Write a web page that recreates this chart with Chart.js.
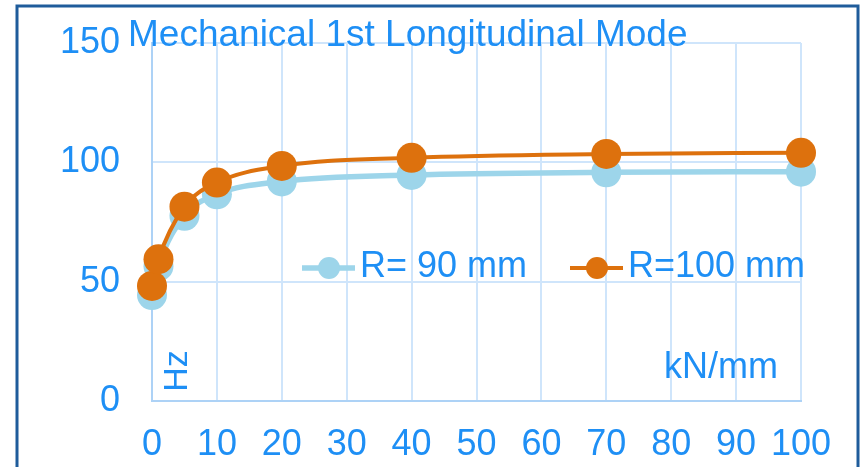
<!DOCTYPE html>
<html>
<head>
<meta charset="utf-8">
<script src="https://cdn.jsdelivr.net/npm/chart.js@4"></script>
<style>
    html, body { margin: 0; padding: 0; background: #fff; }
    canvas { display: block; }
</style>
</head>
<body>
<canvas id="chart" width="863" height="467"></canvas>
<script>
// Data
const stiffness = [0, 1, 5, 10, 20, 40, 70, 100];          // kN/mm
const freqR90 = [44.4, 56.5, 77.6, 86.6, 92, 94.7, 95.8, 96.1];   // Hz
const freqR100 = [48.2, 59.4, 81.4, 91.5, 98.5, 101.9, 103.5, 104]; // Hz
const seriesNames = ['R= 90 mm', 'R=100 mm'];
const xTicks = [0, 10, 20, 30, 40, 50, 60, 70, 80, 90, 100];
const yTicks = [0, 50, 100, 150];

const chartTitle = 'Mechanical 1st Longitudinal Mode';
const yUnit = 'Hz';
const xUnit = 'kN/mm';

const textBlue = '#1e8ff5';
const gridBlue = '#cfe5fb';
const axisBlue = '#add2f6';
const lightBlue = '#9dd5ea';
const orange = '#dd710d';
const fontFamily = 'Arial, "Liberation Sans", sans-serif';

const toPoints = (ys) => stiffness.map((x, i) => ({ x: x, y: ys[i] }));

// Frame, title, unit labels and legend drawn over the chart
const decorPlugin = {
    id: 'decor',
    beforeDraw(chart) {
        const ctx = chart.ctx;
        ctx.save();
        ctx.fillStyle = '#fff';
        ctx.fillRect(0, 0, chart.width, chart.height);
        ctx.strokeStyle = '#1f5c9b';
        ctx.lineWidth = 3;
        ctx.strokeRect(17, 6, 841, 480);
        ctx.restore();
    },
    afterDraw(chart) {
        const ctx = chart.ctx;
        ctx.save();
        ctx.fillStyle = textBlue;

        // title
        ctx.font = '37px ' + fontFamily;
        ctx.textAlign = 'left';
        ctx.textBaseline = 'alphabetic';
        ctx.fillText(chartTitle, 128, 46);

        // x unit
        ctx.font = '36px ' + fontFamily;
        ctx.fillText(xUnit, 664, 378);

        // y unit, rotated
        ctx.save();
        ctx.translate(178, 371);
        ctx.rotate(-Math.PI / 2);
        ctx.textAlign = 'center';
        ctx.textBaseline = 'middle';
        ctx.font = '34px ' + fontFamily;
        ctx.fillText(yUnit, 0, 0);
        ctx.restore();

        // legend
        const items = [
            { ds: chart.data.datasets[0], x: 302 },
            { ds: chart.data.datasets[1], x: 570 }
        ];
        const ly = 268;
        ctx.font = '36px ' + fontFamily;
        items.forEach(item => {
            ctx.strokeStyle = item.ds.borderColor;
            ctx.lineWidth = item.ds.borderWidth;
            ctx.beginPath();
            ctx.moveTo(item.x, ly);
            ctx.lineTo(item.x + 53, ly);
            ctx.stroke();
            ctx.fillStyle = item.ds.pointBackgroundColor;
            ctx.beginPath();
            ctx.arc(item.x + 27, ly, 11, 0, Math.PI * 2);
            ctx.fill();
            ctx.fillStyle = textBlue;
            ctx.textAlign = 'left';
            ctx.textBaseline = 'middle';
            ctx.fillText(item.ds.label, item.x + 58, ly - 1);
        });
        ctx.restore();
    }
};

const chart = new Chart(document.getElementById('chart').getContext('2d'), {
    type: 'line',
    data: {
        datasets: [
            {
                label: seriesNames[0],
                data: toPoints(freqR90),
                borderColor: lightBlue,
                backgroundColor: lightBlue,
                pointBackgroundColor: lightBlue,
                borderWidth: 5.5,
                pointRadius: 15,
                pointBorderWidth: 0,
                cubicInterpolationMode: 'monotone',
                clip: false,
                order: 1
            },
            {
                label: seriesNames[1],
                data: toPoints(freqR100),
                borderColor: orange,
                backgroundColor: orange,
                pointBackgroundColor: orange,
                borderWidth: 4,
                pointRadius: 15,
                pointBorderWidth: 0,
                cubicInterpolationMode: 'monotone',
                clip: false,
                order: 0
            }
        ]
    },
    options: {
        responsive: false,
        animation: false,
        events: [],
        layout: { autoPadding: false, padding: { top: 43, right: 62, left: 0, bottom: 0 } },
        plugins: {
            legend: { display: false },
            title: { display: false },
            tooltip: { enabled: false }
        },
        scales: {
            x: {
                type: 'linear',
                min: 0,
                max: 100,
                afterFit: (scale) => {
                    scale.height = 66;
                    scale.paddingLeft = 0;
                    scale.paddingRight = 0;
                },
                afterBuildTicks: (scale) => { scale.ticks = xTicks.map(v => ({ value: v })); },
                grid: { color: gridBlue, lineWidth: 2, drawTicks: false },
                border: { color: axisBlue, width: 2 },
                ticks: {
                    color: textBlue,
                    font: { size: 36, family: fontFamily },
                    padding: 22,
                    autoSkip: false,
                    maxRotation: 0
                }
            },
            y: {
                type: 'linear',
                min: 0,
                max: 150,
                afterFit: (scale) => {
                    scale.width = 152;
                    scale.paddingTop = 0;
                    scale.paddingBottom = 0;
                },
                afterBuildTicks: (scale) => { scale.ticks = yTicks.map(v => ({ value: v })); },
                grid: { color: gridBlue, lineWidth: 2, drawTicks: false },
                border: { color: axisBlue, width: 2 },
                ticks: {
                    color: textBlue,
                    font: { size: 36, family: fontFamily },
                    padding: 32
                }
            }
        }
    },
    plugins: [decorPlugin]
});
</script>
</body>
</html>
